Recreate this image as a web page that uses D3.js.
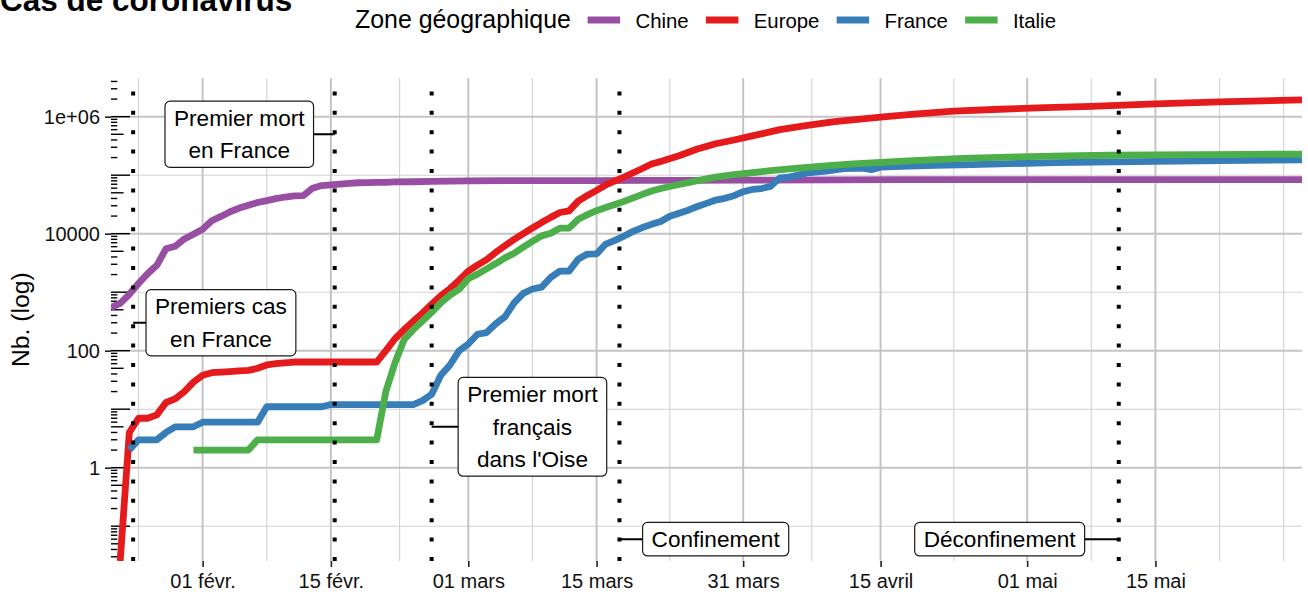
<!DOCTYPE html>
<html><head><meta charset="utf-8">
<script src="https://cdn.jsdelivr.net/npm/d3@7"></script>
<style>
body{margin:0;background:#fff}
svg{display:block}
text{font-family:"Liberation Sans",Arial,Helvetica,sans-serif}
</style>
</head><body>
<svg id="chart" width="1308" height="594"></svg>
<script>
// ---------- DATA ----------
const zones = ["Chine", "Europe", "France", "Italie"];
const zoneColors = ["#984EA3", "#E41A1C", "#377EB8", "#4DAF4A"];

const chine = [["01-22",548],["01-23",643],["01-24",920],["01-25",1406],["01-26",2075],["01-27",2877],["01-28",5509],["01-29",6087],["01-30",8141],["01-31",9802],
["02-01",11891],["02-02",16630],["02-03",19716],["02-04",23707],["02-05",27440],["02-06",30587],["02-07",34110],["02-08",36814],["02-09",39829],["02-10",42354],["02-11",44386],["02-12",44759],["02-13",59895],["02-14",66358],["02-15",68413],["02-16",70513],["02-17",72434],["02-18",74211],["02-19",74619],["02-20",75077],["02-21",75550],["02-22",77001],["02-24",77241],["02-26",78166],["02-28",78928],
["03-01",79932],["03-05",80565],["03-10",80921],["03-15",81003],["03-20",81250],["03-25",81661],["03-31",82279],["04-10",82941],["04-17",83760],["04-30",83956],["05-15",84038],["05-31",84128]];

const europe = [["01-23",0],["01-24",4],["01-25",7],["01-26",7],["01-27",8],["01-28",13],["01-29",15],["01-30",20],["01-31",29],
["02-01",38],["02-02",42],["02-03",43],["02-04",44],["02-05",45],["02-06",46],["02-07",50],["02-08",57],["02-09",60],["02-10",62],["02-11",64],["02-20",64],
["02-21",100],["02-22",160],["02-23",230],["02-24",320],["02-25",440],["02-26",620],["02-27",870],["02-28",1150],["02-29",1600],
["03-01",2300],["03-02",2900],["03-03",3600],["03-04",4800],["03-05",6200],["03-06",8000],["03-07",10000],["03-08",12500],["03-09",15500],["03-10",19000],["03-11",23000],["03-12",24500],["03-13",36000],["03-14",45000],["03-15",55000],["03-16",68000],["03-17",80000],["03-18",93000],["03-19",110000],["03-20",130000],["03-21",155000],["03-22",172000],["03-24",215000],["03-26",280000],["03-28",345000],["03-30",400000],
["04-01",470000],["04-04",600000],["04-07",710000],["04-10",820000],["04-15",980000],["04-19",1120000],["04-23",1240000],["04-28",1340000],["05-03",1430000],["05-08",1500000],["05-15",1650000],["05-22",1790000],["05-31",1930000]];

const france = [["01-24",2],["01-25",3],["01-27",3],["01-28",4],["01-29",5],["01-31",5],["02-01",6],["02-07",6],["02-08",11],["02-14",11],["02-15",12],["02-24",12],["02-25",14],["02-26",18],["02-27",38],["02-28",57],["02-29",100],
["03-01",130],["03-02",191],["03-03",204],["03-04",288],["03-05",380],["03-06",656],["03-07",957],["03-08",1134],["03-09",1217],["03-10",1792],["03-11",2289],["03-12",2289],["03-13",3672],["03-14",4480],["03-15",4513],["03-16",6650],["03-17",7699],["03-18",9105],["03-19",10947],["03-20",12726],["03-21",14431],["03-22",16176],["03-23",19856],["03-24",22304],["03-25",25233],["03-26",29155],["03-27",32964],["03-28",37575],["03-29",40174],["03-30",44550],["03-31",52128],
["04-01",56989],["04-02",59105],["04-03",64338],["04-04",89953],["04-05",92839],["04-07",109069],["04-09",117749],["04-11",129654],["04-13",132000],["04-14",124000],["04-15",137000],["04-18",143000],["04-21",147000],["04-25",152000],["05-01",160000],["05-04",164000],["05-15",172000],["05-22",178000],["05-31",183000]];

const italie = [["01-31",2],["02-06",2],["02-07",3],["02-20",3],["02-21",20],["02-22",62],["02-23",155],["02-24",229],["02-25",322],["02-26",453],["02-27",655],["02-28",888],["02-29",1128],
["03-01",1694],["03-02",2036],["03-03",2502],["03-04",3089],["03-05",3858],["03-06",4636],["03-07",5883],["03-08",7375],["03-09",9172],["03-10",10149],["03-11",12462],["03-12",12462],["03-13",17660],["03-14",21157],["03-15",24747],["03-16",27980],["03-17",31506],["03-18",35713],["03-19",41035],["03-20",47021],["03-21",53578],["03-22",59138],["03-23",63927],["03-24",69176],["03-25",74386],["03-26",80589],["03-27",86498],["03-28",92472],["03-29",97689],["03-30",101739],["03-31",105792],
["04-03",119827],["04-06",132547],["04-09",143626],["04-12",156363],["04-15",165155],["04-18",175925],["04-21",183957],["04-24",192994],["04-27",199414],["04-30",205463],["05-05",213013],["05-10",219070],["05-15",222500],["05-20",225000],["05-25",227500],["05-31",229500]];

const xTickDates = ["02-01","02-15","03-01","03-15","03-31","04-15","05-01","05-15"];
const xTickLabels = ["01 févr.","15 févr.","01 mars","15 mars","31 mars","15 avril","01 mai","15 mai"];
const xMinorDates = ["01-25","02-08","02-22T12:00","03-08","03-23","04-07T12:00","04-23","05-08","05-22","05-29"];
const yTickValues = [1, 100, 10000, 1000000];
const yTickLabels = ["1", "100", "10000", "1e+06"];
const yMinorValues = [0.1, 10, 1000, 100000];

const eventDates = ["01-24T10:00","02-15T10:00","02-26","03-17T12:00","05-11"];
const eventLabels = ["Premiers cas\nen France","Premier mort\nen France","Premier mort\nfrançais\ndans l'Oise","Confinement","Déconfinement"];
const labelDates = ["02-03","02-05","03-08","03-28","04-28"];
const labelValues = [300, 500000, 5, 0.06, 0.06];

const titleText = "Cas de coronavirus";
const legendTitle = "Zone géographique";
const yTitle = "Nb. (log)";

// ---------- SETUP ----------
const md = s => new Date("2020-" + s + (s.includes("T") ? "Z" : "T00:00Z"));
const series = [chine, europe, france, italie];

const svg = d3.select("#chart");
const P = {left:111, right:1302, top:78.3, bottom:561};

const x = d3.scaleUtc().domain([md("01-22"), md("05-31")]).range([P.left, P.right]);
const y = d3.scaleLog().domain([Math.pow(10,-1.595), Math.pow(10,6.656)]).range([P.bottom, P.top]);
const yv = v => v > 0 ? y(v) : P.bottom;

const FONT = '"Liberation Sans",Arial,Helvetica,sans-serif';

svg.append("defs").append("clipPath").attr("id","clip")
  .append("rect").attr("x",P.left).attr("y",P.top).attr("width",P.right-P.left).attr("height",P.bottom-P.top);

// grid
const grid = svg.append("g");
grid.selectAll(".ymin").data(yMinorValues).join("line")
  .attr("x1",P.left).attr("x2",P.right).attr("y1",d=>y(d)).attr("y2",d=>y(d))
  .attr("stroke","#d3d3d3").attr("stroke-width",1.1);
grid.selectAll(".xmin").data(xMinorDates).join("line")
  .attr("y1",P.top).attr("y2",P.bottom).attr("x1",d=>x(md(d))).attr("x2",d=>x(md(d)))
  .attr("stroke","#d3d3d3").attr("stroke-width",1.1);
grid.selectAll(".ymaj").data(yTickValues).join("line")
  .attr("x1",P.left).attr("x2",P.right).attr("y1",d=>y(d)).attr("y2",d=>y(d))
  .attr("stroke","#c4c4c4").attr("stroke-width",2);
grid.selectAll(".xmaj").data(xTickDates).join("line")
  .attr("y1",P.top).attr("y2",P.bottom).attr("x1",d=>x(md(d))).attr("x2",d=>x(md(d)))
  .attr("stroke","#c4c4c4").attr("stroke-width",2);

// log ticks (annotation_logticks, left side)
const logTicks = [];
for (let k = -2; k <= 6; k++) for (let i = 1; i <= 9; i++) {
  const v = i * Math.pow(10, k);
  if (v >= y.domain()[0] && v <= y.domain()[1]) logTicks.push({v, i});
}
svg.append("g").selectAll("line").data(logTicks).join("line")
  .attr("x1",P.left).attr("x2",d=>P.left + (d.i===1 ? 19 : d.i===5 ? 12.6 : 6.3))
  .attr("y1",d=>y(d.v)).attr("y2",d=>y(d.v))
  .attr("stroke","#000").attr("stroke-width",1.4);

// data lines
const line = d3.line().x(d=>x(md(d[0]))).y(d=>yv(d[1]));
const lines = svg.append("g").attr("clip-path","url(#clip)");
series.forEach((s,i)=>{
  lines.append("path").attr("d",line(s)).attr("fill","none")
    .attr("stroke",zoneColors[i]).attr("stroke-width",6.8)
    .attr("stroke-linejoin","round").attr("stroke-linecap","butt");
});

// event dotted lines
svg.append("g").selectAll("path").data(eventDates).join("path")
  .attr("d",d=>`M${x(md(d))},${P.bottom}V${P.top}`)
  .attr("stroke","#000").attr("stroke-width",4).attr("stroke-dasharray","4 15.4").attr("fill","none");

// connectors + labels
const lab = svg.append("g");
const lineH = 32.6, padX = 9, FS = 22.6;
eventLabels.forEach((t,i)=>{
  const cx = x(md(labelDates[i])), cy = y(labelValues[i]), ex = x(md(eventDates[i]));
  lab.append("line").attr("x1",ex).attr("x2",cx).attr("y1",cy).attr("y2",cy)
    .attr("stroke","#000").attr("stroke-width",2);
  const parts = t.split("\n");
  const g = lab.append("g");
  const rect = g.append("rect");
  const tx = g.append("text").attr("text-anchor","middle").attr("font-size",FS).attr("fill","#000");
  parts.forEach((p,j)=>{
    tx.append("tspan").attr("x",cx).attr("y",cy + (j-(parts.length-1)/2)*lineH).attr("dy","0.35em").text(p);
  });
  let w = 0;
  tx.selectAll("tspan").each(function(){ w = Math.max(w, this.getComputedTextLength()); });
  const bw = w + 2*padX, bh = parts.length*lineH + 1;
  rect.attr("x",cx-bw/2).attr("y",cy-bh/2).attr("width",bw).attr("height",bh)
    .attr("rx",5).attr("ry",5).attr("fill","#fff").attr("stroke","#1a1a1a").attr("stroke-width",1.2);
});

// axes
const xAxis = svg.append("g").attr("transform",`translate(0,${P.bottom})`)
  .call(d3.axisBottom(x).tickValues(xTickDates.map(md)).tickFormat((d,i)=>xTickLabels[i]).tickSize(6).tickPadding(7));
const yAxis = svg.append("g").attr("transform",`translate(${P.left},0)`)
  .call(d3.axisLeft(y).tickValues(yTickValues).tickFormat((d,i)=>yTickLabels[i]).tickSize(6).tickPadding(5));
[xAxis,yAxis].forEach(a=>{
  a.select(".domain").remove();
  a.attr("font-family",FONT).attr("font-size",20);
  a.selectAll(".tick line").attr("stroke","#222").attr("stroke-width",1.6);
  a.selectAll(".tick text").attr("fill","#111");
});

// y title
svg.append("text").attr("transform",`translate(29,${(P.top+P.bottom)/2}) rotate(-90)`)
  .attr("text-anchor","middle").attr("font-size",24.7).attr("fill","#000").text(yTitle);

// title
svg.append("text").attr("x",0).attr("y",11).attr("font-size",31.5).attr("font-weight","bold").attr("fill","#000").text(titleText);

// legend
const leg = svg.append("g");
const lt = leg.append("text").attr("x",355).attr("y",28).attr("font-size",24.9).attr("fill","#000").text(legendTitle);
let lx = 355 + lt.node().getComputedTextLength() + 16.7;
zones.forEach((z,i)=>{
  leg.append("line").attr("x1",lx).attr("x2",lx+32.5).attr("y1",20).attr("y2",20)
    .attr("stroke",zoneColors[i]).attr("stroke-width",6.8);
  const t = leg.append("text").attr("x",lx+32.5+15.3).attr("y",27.5).attr("font-size",20.4).attr("fill","#000").text(z);
  lx += 32.5 + 15.3 + t.node().getComputedTextLength() + 17.2;
});
</script>
</body></html>
